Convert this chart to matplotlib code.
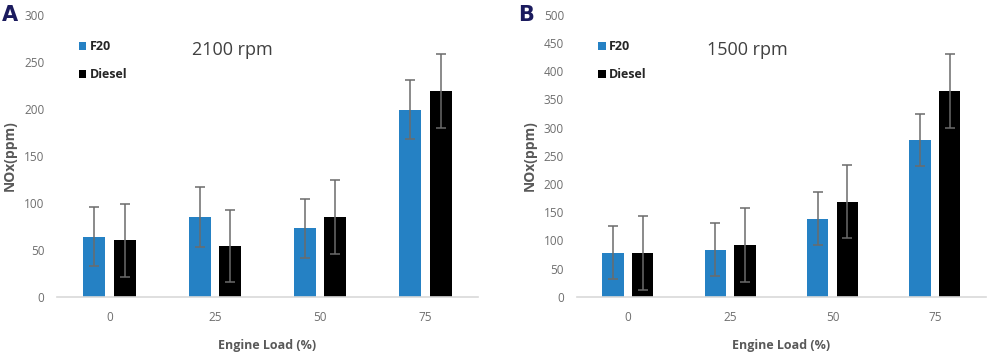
import numpy as np
import matplotlib
matplotlib.use("Agg")
import matplotlib.pyplot as plt

plt.rcParams['font.family'] = ['Open Sans', 'DejaVu Sans']

loads = ["0", "25", "50", "75"]

# panel A, 2100 rpm
f20_2100 = [64, 85, 73, 199]
f20_2100_err = [31.5, 32, 31.5, 31.5]
diesel_2100 = [60, 54, 85, 219]
diesel_2100_err = [39, 38.5, 39, 39.5]

# panel B, 1500 rpm
f20_1500 = [78, 83, 138, 278]
f20_1500_err = [47, 47, 47, 46.5]
diesel_1500 = [78, 92, 169, 365]
diesel_1500_err = [66, 65, 65, 66]

BLUE = "#2581c4"
GREY = "#595959"
TICK = "#6e6e6e"


def panel(ax, f20, f20_err, diesel, diesel_err, title, ymax, step):
    x = np.arange(len(loads))
    w = 0.21
    ekw = dict(ecolor="#6b6b6b", elinewidth=1.1, capsize=3.5, capthick=1.1)
    ax.bar(x - 0.145, f20, w, color=BLUE, yerr=f20_err, error_kw=ekw, label="F20", zorder=2)
    ax.bar(x + 0.145, diesel, w, color="black", yerr=diesel_err, error_kw=ekw, label="Diesel", zorder=2)

    ax.set_xlim(-0.5, len(loads) - 0.5)
    ax.set_ylim(0, ymax)
    ax.set_yticks(np.arange(0, ymax + 1, step))
    ax.set_xticks(x)
    ax.set_xticklabels(loads)
    ax.tick_params(axis="both", length=0, colors=TICK, labelsize=8.5, pad=10)
    ax.tick_params(axis="y", pad=9)
    for s in ["top", "right", "left"]:
        ax.spines[s].set_visible(False)
    ax.spines["bottom"].set_color("#d9d9d9")
    ax.spines["bottom"].set_linewidth(1.2)

    ax.set_xlabel("Engine Load (%)", color=GREY, fontsize=9, fontweight="bold", labelpad=11)
    ax.set_ylabel("NOx(ppm)", color=GREY, fontsize=10, fontweight="bold", labelpad=5)
    ax.text(1.17, 0.875 * ymax, title, ha="center", va="center", fontsize=13, color="#404040")

    leg = ax.legend(loc="upper left", bbox_to_anchor=(0.025, 0.95), frameon=False,
                    handlelength=0.6, handleheight=0.6, handletextpad=0.3,
                    labelspacing=1.2, prop=dict(size=9, weight="bold"))
    for t in leg.get_texts():
        t.set_color("#262626")


fig = plt.figure(figsize=(9.89, 3.55), dpi=100)
axA = fig.add_axes([0.0576, 0.164, 0.4257, 0.794])
axB = fig.add_axes([0.583, 0.164, 0.414, 0.794])

panel(axA, f20_2100, f20_2100_err, diesel_2100, diesel_2100_err, "2100 rpm", 300, 50)
panel(axB, f20_1500, f20_1500_err, diesel_1500, diesel_1500_err, "1500 rpm", 500, 50)

fig.text(0.002, 0.985, "A", fontsize=15, fontweight="bold", color="#1b1b5e", va="top", family="DejaVu Sans")
fig.text(0.524, 0.985, "B", fontsize=15, fontweight="bold", color="#1b1b5e", va="top", family="DejaVu Sans")

fig.savefig("out.png", dpi=100)
